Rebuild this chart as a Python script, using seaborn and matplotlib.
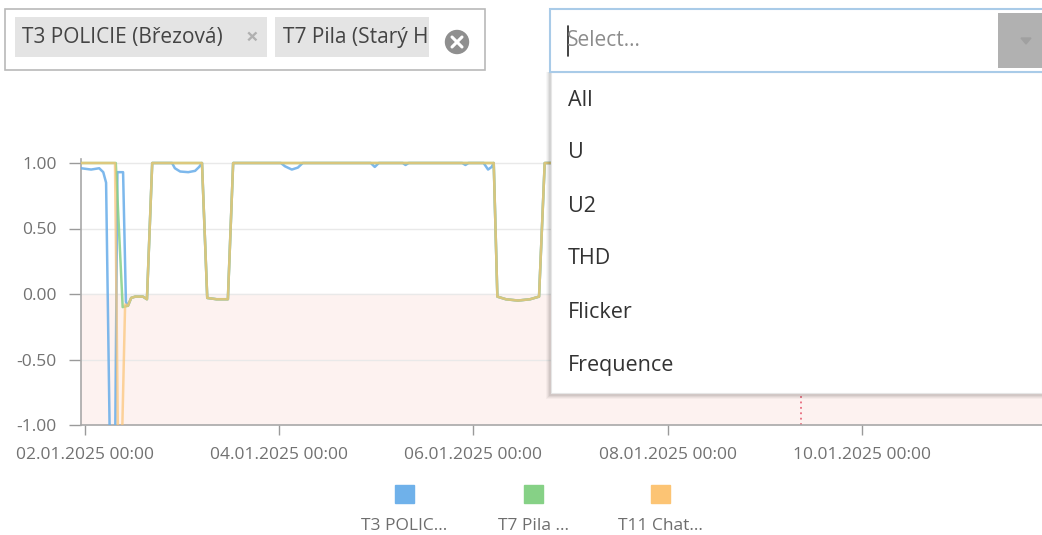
import pandas as pd
import numpy as np
import matplotlib.pyplot as plt
import seaborn as sns
from matplotlib.patches import Rectangle, Circle, Polygon

# Series (hours after 02.01.2025 00:00, value)
series_names = ["T3 POLIC…", "T7 Pila …", "T11 Chat…"]
series_colors = ["#6fb1ea", "#86d186", "#fcc474"]

t3_hours = [-1.0, 1.5, 3.5, 4.5, 5.2, 6.2, 7.4, 8.0, 9.4, 10.1, 10.6, 11.4, 12.4, 14.3, 15.3,
            16.6, 21.5, 22.2, 23.5, 25.5, 27.2, 28.2, 28.9, 30.2, 32.5, 35.3, 36.6,
            48.4, 49.4, 51.1, 52.6, 53.8, 70.6, 71.6, 72.6, 78.5, 79.2, 80.0,
            93.2, 94.0, 94.8, 98.5, 99.6, 100.5, 101.0, 101.9, 104.0, 107.0, 110.0,
            112.2, 113.6, 125.0]
t3_values = [0.96, 0.95, 0.96, 0.93, 0.85, -1.3, -1.3, 0.93, 0.93, -0.06, -0.09, -0.03, -0.02, -0.02, -0.04,
             1.0, 1.0, 0.96, 0.935, 0.93, 0.94, 0.97, 1.0, -0.03, -0.04, -0.04, 1.0,
             1.0, 0.975, 0.95, 0.965, 1.0, 1.0, 0.97, 1.0, 1.0, 0.985, 1.0,
             1.0, 0.985, 1.0, 1.0, 0.95, 0.97, 1.0, -0.02, -0.04, -0.05, -0.04,
             -0.02, 1.0, 1.0]

t7_hours = [-1.0, 7.6, 9.3, 10.6, 11.4, 12.4, 14.3, 15.3, 16.6, 28.9, 30.2, 32.5, 35.3, 36.6,
            101.0, 101.9, 104.0, 107.0, 110.0, 112.2, 113.6, 125.0]
t7_values = [1.0, 1.0, -0.1, -0.09, -0.03, -0.02, -0.02, -0.04, 1.0, 1.0, -0.03, -0.04, -0.04, 1.0,
             1.0, -0.02, -0.04, -0.05, -0.04, -0.02, 1.0, 1.0]

t11_hours = [-1.0, 7.4, 8.2, 9.0, 9.9, 10.6, 11.4, 12.4, 14.3, 15.3, 16.6, 28.9, 30.2, 32.5, 35.3, 36.6,
             101.0, 101.9, 104.0, 107.0, 110.0, 112.2, 113.6, 125.0]
t11_values = [1.0, 1.0, -1.3, -1.3, -0.08, -0.09, -0.03, -0.02, -0.02, -0.04, 1.0, 1.0, -0.03, -0.04, -0.04, 1.0,
              1.0, -0.02, -0.04, -0.05, -0.04, -0.02, 1.0, 1.0]

now_hours = 177.0
y_ticks = [-1.0, -0.5, 0.0, 0.5, 1.0]

menu_items = ["All", "U", "U2", "THD", "Flicker", "Frequence"]
tag_labels = ["T3 POLICIE (Březová)", "T7 Pila (Starý H"]

start = pd.Timestamp("2025-01-02 00:00")
frames = []
for name, hrs, vals in zip(series_names, [t3_hours, t7_hours, t11_hours],
                           [t3_values, t7_values, t11_values]):
    frames.append(pd.DataFrame({"time": start + pd.to_timedelta(hrs, unit="h"),
                                "value": vals, "series": name}))
df = pd.concat(frames, ignore_index=True)

sns.set_theme(style="white")
plt.rcParams["font.family"] = ["Open Sans", "DejaVu Sans"]

fig = plt.figure(figsize=(10.42, 5.35), dpi=100)
ax = fig.add_axes([81 / 1042, 1 - 425 / 535, 1 - 81 / 1042, (425 - 159.07) / 535])

ax.axhspan(-1, 0, color="#fdf2f0", zorder=0)
for y in y_ticks[1:]:
    ax.axhline(y, color="#e9e9e9", linewidth=1, zorder=1)

# blue at the bottom, green, then orange half see-through on top
alphas = [0.9, 0.85, 0.7]
for i, name in enumerate(series_names):
    sns.lineplot(data=df[df["series"] == name], x="time", y="value", color=series_colors[i],
                 estimator=None, linewidth=1.8, alpha=alphas[i], ax=ax, zorder=3 + i)

ax.axvline(start + pd.Timedelta(hours=now_hours), color="#e86a7c", linestyle=(0, (1, 2)),
           linewidth=1.3, zorder=2)

ax.set_xlim(start - pd.Timedelta(hours=1.0), start + pd.Timedelta(hours=236.5))
ax.set_ylim(-1, 1.03)
ax.set_yticks(y_ticks)
ax.set_yticklabels([f"{v:.2f}" for v in y_ticks])
xt = pd.date_range("2025-01-02", periods=5, freq="2D")
ax.set_xticks(xt)
ax.set_xticklabels([d.strftime("%d.%m.%Y %H:%M") for d in xt])
ax.set_xlabel("")
ax.set_ylabel("")
ax.tick_params(axis="both", colors="#9a9a9a", labelcolor="#727272", labelsize=12.5)
ax.tick_params(axis="y", length=8.5, width=1, pad=9, left=True)
ax.tick_params(axis="x", length=7, width=1, pad=9, bottom=True)
for s in ["top", "right"]:
    ax.spines[s].set_visible(False)
for s in ["left", "bottom"]:
    ax.spines[s].set_color("#a8a8a8")
    ax.spines[s].set_linewidth(1.2)
ax.patch.set_alpha(0)

# overlay in pixel coordinates for legend and widgets
ov = fig.add_axes([0, 0, 1, 1], zorder=10)
ov.set_xlim(0, 1042)
ov.set_ylim(535, 0)
ov.axis("off")
ov.patch.set_alpha(0)

legend_x = [404, 533, 660]
for x, name, c in zip(legend_x, series_names, series_colors):
    ov.add_patch(Rectangle((x - 9.5, 485), 19, 18, color=c))
    ov.text(x, 526, name, ha="center", va="center", fontsize=12.5, color="#6e6e6e")

# multi-select box
ov.add_patch(Rectangle((5, 9), 480, 61, facecolor="white", edgecolor="#b9b9b9", linewidth=1.2))
ov.add_patch(Rectangle((15, 17), 252, 40, facecolor="#e4e4e4", edgecolor="none"))
ov.text(22, 38, tag_labels[0], ha="left", va="center", fontsize=15, color="#444444")
ov.text(252, 38, "×", ha="center", va="center", fontsize=16, color="#b0b0b0", fontweight="bold")
tag2 = Rectangle((275, 17), 154, 40, facecolor="#e4e4e4", edgecolor="none")
ov.add_patch(tag2)
t = ov.text(283, 38, tag_labels[1], ha="left", va="center", fontsize=15, color="#444444")
t.set_clip_path(tag2)
ov.add_patch(Circle((457, 42), 11.5, color="#8f8f8f"))
ov.plot([452, 462], [37, 47], color="white", linewidth=2.2, solid_capstyle="round")
ov.plot([452, 462], [47, 37], color="white", linewidth=2.2, solid_capstyle="round")

# dropdown shadow and list
for k, a in enumerate([0.03, 0.04, 0.05, 0.06]):
    d = 4 - k
    ov.add_patch(Rectangle((550 - d, 72), 492 + d, 321 + d + 2, facecolor="black",
                           edgecolor="none", alpha=a))
ov.add_patch(Rectangle((551, 72), 491, 321, facecolor="white", edgecolor="#e6e6e6", linewidth=0.8))
for i, item in enumerate(menu_items):
    ov.text(568, 100 + i * 53, item, ha="left", va="center", fontsize=15.5, color="#333333")

# select input
ov.add_patch(Rectangle((550, 9), 495, 63, facecolor="white", edgecolor="#a9cbe8", linewidth=1.5))
ov.add_patch(Rectangle((998, 13), 46, 55, facecolor="#b1b1b1", edgecolor="none"))
ov.add_patch(Polygon([[1021, 38], [1031, 38], [1026, 44]], closed=True, color="#a0a0a0"))
ov.text(567, 41, "Select...", ha="left", va="center", fontsize=15, color="#8c8c8c")
ov.plot([567.5, 567.5], [26, 56], color="#222222", linewidth=1.2)

plt.savefig("out.png", dpi=100)
